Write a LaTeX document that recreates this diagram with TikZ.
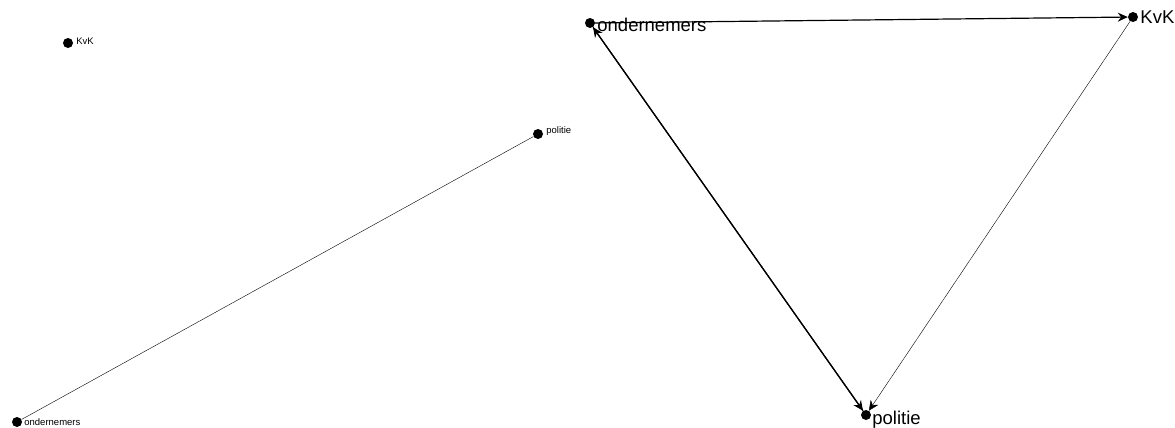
\documentclass[tikz,border=0pt]{standalone}
\usepackage{fontspec}
\setmainfont{Liberation Sans}
\usetikzlibrary{arrows.meta, positioning}

\begin{document}
\begin{tikzpicture}[x=1pt, y=-1pt]
    \tikzstyle{actor} = [circle, fill=black, inner sep=0pt, minimum size=10pt]
    \tikzstyle{small} = [font=\fontsize{9.5}{10}\selectfont, inner sep=1pt]
    \tikzstyle{big} = [font=\fontsize{18.5}{19}\selectfont, inner sep=1pt]
    \tikzstyle{tie} = [-{Stealth[length=10pt, width=9pt]}]

    \useasboundingbox (0,0) rectangle (1175,428);

    % left graph
    \node[actor] (kvkA) at (68,43) {};
    \node[actor] (polA) at (538,134) {};
    \node[actor] (ondA) at (17,422) {};
    \node[small, anchor=south west] at ([xshift=2pt, yshift=-3pt]kvkA.east) {KvK};
    \node[small, anchor=south west] at ([xshift=2pt, yshift=-3pt]polA.east) {politie};
    \node[small, anchor=west] at ([xshift=1pt]ondA.east) {ondernemers};

    \draw[thin] (polA) -- (ondA);

    % right graph
    \node[actor] (ondB) at (590,23) {};
    \node[actor] (kvkB) at (1133,17) {};
    \node[actor] (polB) at (866,415) {};
    \node[big, anchor=west] at ([xshift=1pt, yshift=-2pt]ondB.east) {ondernemers};
    \node[big, anchor=west] at ([xshift=1pt]kvkB.east) {KvK};
    \node[big, anchor=base west] at ([yshift=-9pt]polB.east) {politie};

    \draw[tie, semithick, line width=1.2pt] (ondB) -- (kvkB);
    \draw[tie, line width=1.2pt] (ondB) -- (polB);
    \draw[tie, line width=1.2pt] (polB) -- (ondB);
    \draw[tie, thin] (kvkB) -- (polB);
\end{tikzpicture}
\end{document}
